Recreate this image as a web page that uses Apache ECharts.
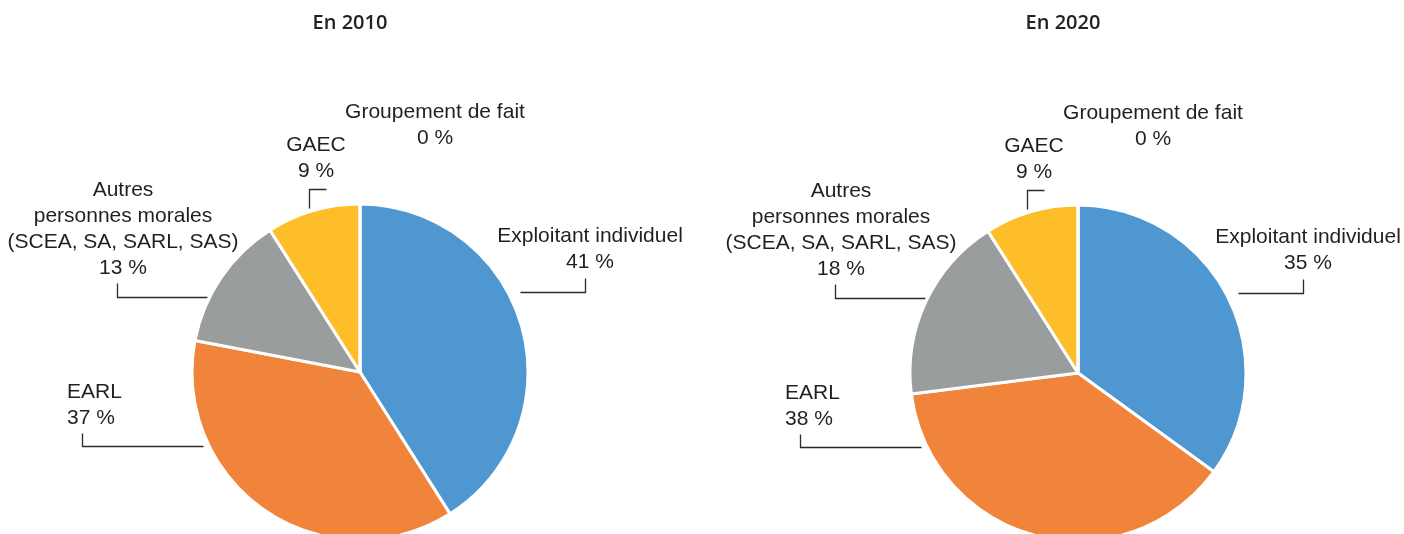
<!DOCTYPE html>
<html lang="fr">
<head>
  <meta charset="UTF-8">
  <title>Statut juridique des exploitations</title>
  <style>
    html, body { margin: 0; padding: 0; background: #fff; }
    #chart { width: 1404px; height: 534px; }
  </style>
</head>
<body>
  <div id="chart"></div>
  <script src="https://cdn.jsdelivr.net/npm/echarts@6/dist/echarts.min.js"></script>
  <script>
    // data
    var categories = [
      'Exploitant individuel',
      'EARL',
      'Autres\npersonnes morales\n(SCEA, SA, SARL, SAS)',
      'GAEC',
      'Groupement de fait'
    ];
    var years = ['En 2010', 'En 2020'];
    var values2010 = [41, 37, 13, 9, 0];
    var values2020 = [35, 38, 18, 9, 0];

    // look
    var colors = ['#4f97d1', '#f1843b', '#9a9d9d', '#fdbe29', '#fdbe29'];
    var centers = [[360, 372], [1078, 373]];
    var radius = 168;
    var lineH = 26;
    // label spot relative to pie centre: dx, dy (middle of first line), align
    var labelPos = [
      [230, -136, 'center'],
      [-293, 20, 'left'],
      [-237, -182, 'center'],
      [-44, -227, 'center'],
      [75, -260, 'center']
    ];
    // leader lines relative to pie centre
    var leaders = [
      [[160, -80], [225, -80], [225, -94]],
      [[-278, 61], [-278, 74], [-157, 74]],
      [[-243, -89], [-243, -75], [-153, -75]],
      [[-51, -164], [-51, -183], [-34, -183]],
      null
    ];

    function toData(vals) {
      return vals.map(function (v, i) {
        var d = { name: categories[i], value: v };
        if (!leaders[i]) d.labelLine = { show: false };
        return d;
      });
    }

    function pie(idx, vals) {
      return {
        type: 'pie',
        center: centers[idx],
        radius: radius,
        startAngle: 90,
        clockwise: true,
        avoidLabelOverlap: false,
        silent: true,
        itemStyle: { borderColor: '#fff', borderWidth: 3 },
        label: {
          show: true,
          position: 'outside',
          formatter: '{b}\n{c} %',
          fontFamily: 'Liberation Sans',
          fontSize: 21,
          lineHeight: lineH,
          color: '#231f20'
        },
        labelLine: {
          show: true,
          length: 10,
          length2: 10,
          smooth: false,
          lineStyle: { color: '#2a2a2a', width: 1.3 }
        },
        labelLayout: function (params) {
          var c = centers[params.seriesIndex];
          var p = labelPos[params.dataIndex];
          var out = {
            x: c[0] + p[0],
            y: c[1] + p[1] - lineH / 2,
            align: p[2],
            verticalAlign: 'top'
          };
          var l = leaders[params.dataIndex];
          if (l) {
            // half pixel so the thin lines stay crisp
            out.labelLinePoints = l.map(function (pt) {
              return [c[0] + pt[0] + 0.5, c[1] + pt[1] + 0.5];
            });
          }
          return out;
        },
        data: toData(vals)
      };
    }

    var titleStyle = {
      fontFamily: 'Open Sans',
      fontWeight: 600,
      fontSize: 20,
      color: '#222'
    };

    var myChart = echarts.init(document.getElementById('chart'));
    myChart.setOption({
      animation: false,
      color: colors,
      title: [
        { text: years[0], left: 350, top: 13, textAlign: 'center', padding: 0, textStyle: titleStyle },
        { text: years[1], left: 1063, top: 13, textAlign: 'center', padding: 0, textStyle: titleStyle }
      ],
      series: [pie(0, values2010), pie(1, values2020)]
    });
  </script>
</body>
</html>
